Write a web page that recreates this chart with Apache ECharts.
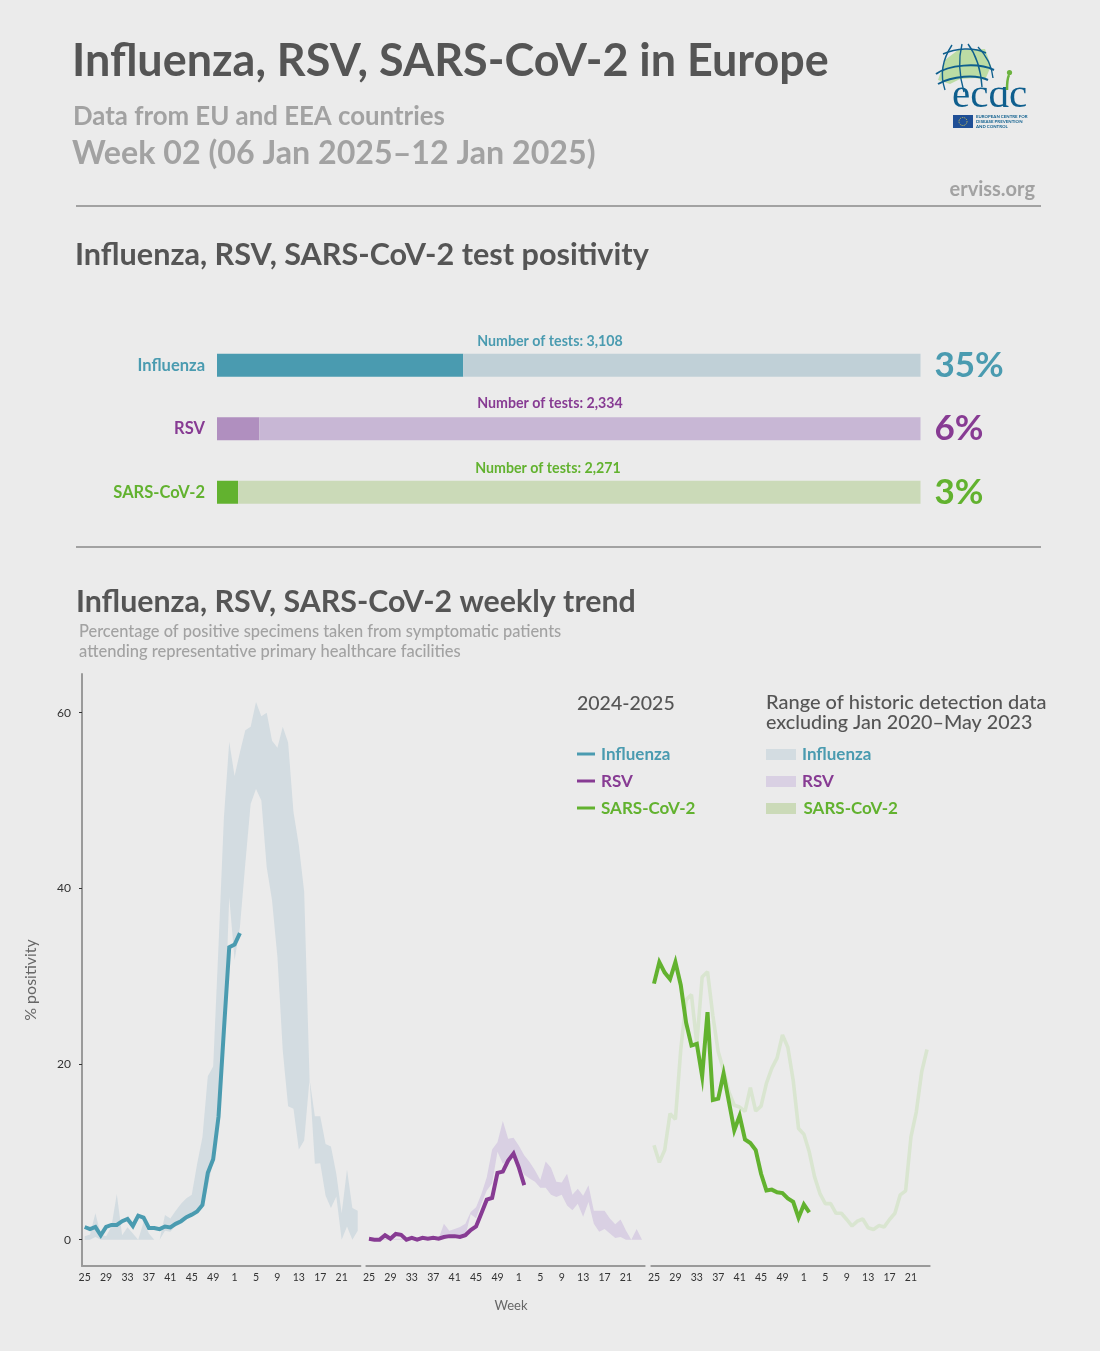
<!DOCTYPE html>
<html>
<head>
<meta charset="utf-8">
<title>Influenza, RSV, SARS-CoV-2 in Europe</title>
<script src="https://cdn.jsdelivr.net/npm/echarts@6/dist/echarts.min.js"></script>
<style>
  html, body { margin: 0; padding: 0; background: #ebebeb; }
  #chart { width: 1100px; height: 1351px; }
</style>
</head>
<body>
<div id="chart"></div>
<script>
// ── Data ──────────────────────────────────────────────────────────────────────

const viruses   = ['Influenza', 'RSV', 'SARS-CoV-2'];
const positivity = [35, 6, 3];
const testCounts = ['3,108', '2,334', '2,271'];

const weeks = [25,26,27,28,29,30,31,32,33,34,35,36,37,38,39,40,41,42,43,44,45,46,47,48,49,50,51,52,
               1,2,3,4,5,6,7,8,9,10,11,12,13,14,15,16,17,18,19,20,21,22,23,24];
const yTicks = [0, 20, 40, 60];

const fluSeason = [1.44,1.2,1.44,0.5,1.44,1.67,1.67,2.1,2.35,1.55,2.73,2.5,1.33,1.33,1.2,1.5,1.4,1.8,2.1,2.55,
                   2.85,3.2,3.95,7.6,9.15,14,23.8,33.3,33.6,34.9];
const fluHigh = [0.4,0.6,3,0.6,0.4,1.5,5.2,0.5,1.4,0.7,0,2,0.7,0,0,2.8,2.4,3.3,4.1,4.7,5.1,8.6,11.7,18.6,19.7,
                 33.5,48,56.7,52.8,55.5,58,58.4,61.2,59.6,60,56.8,56,58.4,56.6,48.7,44.9,39.6,18.3,14.05,14.05,
                 10.9,10.6,7.5,3,8,3.6,3.3];
const fluLow  = [0,0,0.3,0,0,0,0,0,0,0,0,0,0,0,0,1,0.9,1.6,2,2.3,2.8,3.1,3.6,6,9,13.5,22,39,31.8,35.6,42.8,49.6,
                 51.3,50,42.4,38.6,32.2,21.5,15.2,14.9,10.25,11.3,18.3,8.65,8.7,5,3.6,4.9,0,1.5,0,1];

const rsvSeason = [0.1,0,0,0.5,0.1,0.65,0.55,0,0.2,0,0.2,0.1,0.2,0.1,0.3,0.4,0.4,0.3,0.5,1.1,1.5,3,4.55,4.75,
                   7.6,7.75,9,9.8,8.2,6.2];
const rsvHigh = [0.1,0.1,0.1,0.1,0.1,0.1,0.1,0.1,0.1,0.1,0.1,0.1,0.1,0.1,1.8,1,1.2,1.45,1.8,3.15,3.7,5.2,7.1,10.25,
                 11.1,13.5,11.5,11.6,10.7,9.6,8.85,7.9,6.8,8.9,8.2,6.6,6.5,7.5,5.1,5.8,5,6.2,3.3,3.3,3.3,2.4,
                 1.75,2.3,1.05,0,1.2,0];
const rsvLow  = [0,0,0,0,0,0,0,0,0,0,0,0,0,0,0.3,0.4,0.4,0.3,0.4,2.9,2.45,4.1,5.6,6.4,10,8.65,9,9.6,8.65,7.4,6.95,
                 6.6,5.9,5.9,5.1,4.85,5.1,3.9,3.35,4.1,2.6,4.3,1.8,0.9,1.2,0.7,0.2,0.3,0,0,0,0];

const covSeason = [29.15,31.6,30.4,29.65,31.6,29,24.7,22.1,22.3,18.6,25.9,15.9,16.05,18.9,15.7,12.45,14.1,11.4,11,
                   10.2,7.5,5.6,5.7,5.4,5.3,4.7,4.3,2.5,4,3.1];
const covHistoric = [10.75,8.8,10.2,14.35,13.7,21.6,27.3,27.9,22.3,29.9,30.5,25.5,21.4,19.3,16.8,15.3,15.1,14.6,17.3,
                     14.65,15.2,17.8,19.5,20.7,23.3,21.9,18.15,12.65,12,10,7.15,5.25,4.1,4.1,3,3,2.3,1.55,2.1,2.35,
                     1.35,1.15,1.6,1.45,2.3,3,5.1,5.55,11.7,14.55,19.1,21.65];

// ── Colours ───────────────────────────────────────────────────────────────────

const BG       = '#ebebeb';
const DARK     = '#555555';
const GREY     = '#a2a2a2';
const AXIS     = '#9a9a9a';
const FONT     = 'Lato, "Noto Sans", sans-serif';
const lineCol  = ['#4a9bb0', '#873b93', '#62b22f'];
const barFill  = ['#4a9bb0', '#b08fbf', '#62b22f'];
const barRest  = ['#c0d0d7', '#c8b7d5', '#cbdab8'];
const bandCol  = ['#d3dce1', '#d9d0e3', '#d9e5d0'];
const swatch   = ['#d3dce1', '#d9d0e3', '#cbdab8'];

// ── Text helper ───────────────────────────────────────────────────────────────

function label(x, y, text, size, color, extra = {}) {
  return {
    type: 'text', x, y, silent: true,
    rotation: extra.rotation || 0,
    style: {
      text, fill: color, fontFamily: extra.font || FONT, fontSize: size, fontWeight: extra.weight || 'bold',
      textAlign: extra.align || 'left', textVerticalAlign: 'middle',
    },
  };
}

// ── Logo ──────────────────────────────────────────────────────────────────────

function logo() {
  const blue = '#0f5f8e';
  const curve = (x1, y1, cpx1, cpy1, cpx2, cpy2, x2, y2, color, lineWidth) => ({
    type: 'bezierCurve', silent: true, shape: { x1, y1, cpx1, cpy1, cpx2, cpy2, x2, y2 },
    style: { fill: 'none', stroke: color, lineWidth },
  });
  return [
    { type: 'polygon', silent: true,
      shape: { points: [[945,60],[958,50],[985,49],[991,66],[985,80],[975,78],[960,79],[950,84],[938,80]] },
      style: { fill: '#bcdca4' } },
    curve(936,74, 948,65, 978,62, 994,70, blue, 2),
    curve(938,84, 952,76, 976,74, 988,80, blue, 2),
    curve(943,54, 956,48, 974,47, 986,53, blue, 1.4),
    curve(952,45, 942,60, 940,75, 945,90, blue, 1.4),
    curve(962,44, 958,60, 959,75, 964,92, blue, 1.4),
    curve(968,44, 977,56, 981,72, 982,87, blue, 1.4),
    curve(978,47, 987,56, 992,68, 993,78, blue, 1.4),
    label(952, 96, 'ecdc', 41, blue, { weight: 'normal', font: '"Liberation Serif", serif' }),
    // the stem of the d is the green sprout in the logo, so hide the blue one above the bowl
    { type: 'rect', silent: true, shape: { x: 995, y: 66, width: 16, height: 21 }, style: { fill: BG } },
    curve(1007,90, 1007,84, 1007,79, 1009,75, '#6cb33f', 2.5),
    { type: 'circle', silent: true, shape: { cx: 1009.5, cy: 72.5, r: 2.6 }, style: { fill: '#6cb33f' } },
    { type: 'rect', silent: true, shape: { x: 953, y: 115, width: 20, height: 13 }, style: { fill: '#1f4f96' } },
    { type: 'circle', silent: true, shape: { cx: 963, cy: 121.5, r: 4 },
      style: { fill: 'none', stroke: '#e8d44a', lineWidth: 1, lineDash: [1, 1.2] } },
    label(976, 117, 'EUROPEAN CENTRE FOR', 4.4, blue),
    label(976, 122, 'DISEASE PREVENTION', 4.4, blue),
    label(976, 127, 'AND CONTROL', 4.4, blue),
  ];
}

// ── Legend ────────────────────────────────────────────────────────────────────

function legend() {
  const rows = [754, 781, 808];
  const els = [
    label(577, 704, '2024-2025', 19.5, DARK, { weight: 500 }),
    label(766, 703, 'Range of historic detection data', 20, DARK, { weight: 500 }),
    label(766, 723, 'excluding Jan 2020–May 2023', 19.7, DARK, { weight: 500 }),
  ];
  viruses.forEach((v, i) => {
    els.push({ type: 'rect', silent: true, shape: { x: 577, y: rows[i] - 1.5, width: 18, height: 3 }, style: { fill: lineCol[i] } });
    els.push(label(601, rows[i] + 0.5, v, 17, lineCol[i]));
    els.push({ type: 'rect', silent: true, shape: { x: 766, y: rows[i] - 5, width: 30, height: 11 }, style: { fill: swatch[i] } });
    els.push(label(i === 2 ? 803.5 : 802, rows[i] + 0.5, v, 17, lineCol[i]));
  });
  return els;
}

// ── Trend panels ──────────────────────────────────────────────────────────────

const panelLefts = [82, 366.3, 651.3];
const PANEL_W = 278.4;

function panelXAxis(i) {
  return {
    type: 'category', gridIndex: 1 + i, data: weeks.map(String), boundaryGap: true,
    axisLine: { onZero: false, lineStyle: { color: AXIS, width: 2 } },
    axisTick: { alignWithLabel: true, interval: 3, length: 3, lineStyle: { color: '#333', width: 1 } },
    axisLabel: { interval: 3, color: '#333', fontSize: 10.5, fontFamily: FONT, margin: 6 },
  };
}

function panelYAxis(i) {
  return {
    type: 'value', gridIndex: 1 + i, min: -3, max: 64.4, show: i === 0,
    splitLine: { show: false },
    axisLine: { show: true, lineStyle: { color: AXIS, width: 2 } },
    axisTick: { show: true, length: 3, customValues: yTicks, lineStyle: { color: '#333', width: 1 } },
    axisLabel: { color: '#333', fontSize: 12, fontFamily: FONT, margin: 11, customValues: yTicks },
  };
}

function band(panel, low, high, color) {
  const axes = { xAxisIndex: 1 + panel, yAxisIndex: 1 + panel };
  return [
    { type: 'line', ...axes, stack: 'band' + panel, data: low, showSymbol: false, silent: true,
      lineStyle: { opacity: 0 } },
    { type: 'line', ...axes, stack: 'band' + panel, data: high.map((h, i) => h - low[i]), showSymbol: false, silent: true,
      lineStyle: { opacity: 0 }, areaStyle: { color, opacity: 1 } },
  ];
}

function seasonLine(panel, data, color) {
  return {
    type: 'line', xAxisIndex: 1 + panel, yAxisIndex: 1 + panel, data, showSymbol: false, silent: true,
    lineStyle: { color, width: 4, join: 'miter' }, z: 5,
  };
}

// ── Chart ─────────────────────────────────────────────────────────────────────

const chart = echarts.init(document.getElementById('chart'), null, { renderer: 'canvas' });

chart.setOption({
  backgroundColor: BG,
  animation: false,
  grid: [
    { left: 217, width: 703.5, top: 333.5, height: 190.5 },
    ...panelLefts.map(left => ({ left, width: PANEL_W, top: 674, height: 592 })),
  ],
  xAxis: [
    { type: 'value', gridIndex: 0, min: 0, max: 100, show: false },
    ...panelLefts.map((_, i) => panelXAxis(i)),
  ],
  yAxis: [
    {
      type: 'category', gridIndex: 0, inverse: true,
      data: viruses.map((v, i) => ({ value: v, textStyle: { color: lineCol[i] } })),
      axisLine: { show: false }, axisTick: { show: false },
      axisLabel: { fontFamily: FONT, fontWeight: 'bold', fontSize: 16.5, margin: 12 },
    },
    ...panelLefts.map((_, i) => panelYAxis(i)),
  ],
  series: [
    {
      type: 'bar', stack: 'tests', barWidth: 23, silent: true,
      data: positivity.map((p, i) => ({ value: p, itemStyle: { color: barFill[i] } })),
    },
    {
      type: 'bar', stack: 'tests', barWidth: 23, silent: true,
      data: positivity.map((p, i) => ({
        value: 100 - p,
        itemStyle: { color: barRest[i] },
        label: { show: true, position: 'right', distance: 14, formatter: p + '%', color: lineCol[i],
                 fontFamily: FONT, fontWeight: 'bold', fontSize: 35 },
      })),
    },
    ...band(0, fluLow, fluHigh, bandCol[0]),
    seasonLine(0, fluSeason, lineCol[0]),
    ...band(1, rsvLow, rsvHigh, bandCol[1]),
    seasonLine(1, rsvSeason, lineCol[1]),
    // the SARS-CoV-2 history is one season only, so its range is drawn as a thin stroke
    { type: 'line', xAxisIndex: 3, yAxisIndex: 3, data: covHistoric, showSymbol: false, silent: true,
      lineStyle: { color: bandCol[2], width: 3.6 } },
    seasonLine(2, covSeason, lineCol[2]),
  ],
  graphic: [
    label(72, 62, 'Influenza, RSV, SARS-CoV-2 in Europe', 44.9, DARK),
    label(73, 117, 'Data from EU and EEA countries', 25.8, GREY),
    label(72, 154, 'Week 02 (06 Jan 2025–12 Jan 2025)', 32.2, GREY),
    label(1035, 190, 'erviss.org', 20, GREY, { align: 'right' }),
    { type: 'line', silent: true, shape: { x1: 76, y1: 206, x2: 1041, y2: 206 }, style: { stroke: '#8a8a8a', lineWidth: 1.3 } },
    label(75, 255, 'Influenza, RSV, SARS-CoV-2 test positivity', 30.6, DARK),
    label(550, 341, 'Number of tests: ' + testCounts[0], 14.2, lineCol[0], { align: 'center' }),
    label(550, 403, 'Number of tests: ' + testCounts[1], 14.2, lineCol[1], { align: 'center' }),
    label(548, 468, 'Number of tests: ' + testCounts[2], 14.2, lineCol[2], { align: 'center' }),
    { type: 'line', silent: true, shape: { x1: 76, y1: 547, x2: 1041, y2: 547 }, style: { stroke: '#8a8a8a', lineWidth: 1.3 } },
    label(76, 602, 'Influenza, RSV, SARS-CoV-2 weekly trend', 30.35, DARK),
    label(79, 632, 'Percentage of positive specimens taken from symptomatic patients', 16.4, GREY, { weight: 500 }),
    label(79, 652, 'attending representative primary healthcare facilities', 16.5, GREY, { weight: 500 }),
    label(31, 980, '% positivity', 16, '#666', { weight: 'normal', align: 'center', rotation: Math.PI / 2 }),
    label(511, 1305.5, 'Week', 13, '#666', { weight: 'normal', align: 'center' }),
    ...legend(),
    ...logo(),
  ],
});
</script>
</body>
</html>
